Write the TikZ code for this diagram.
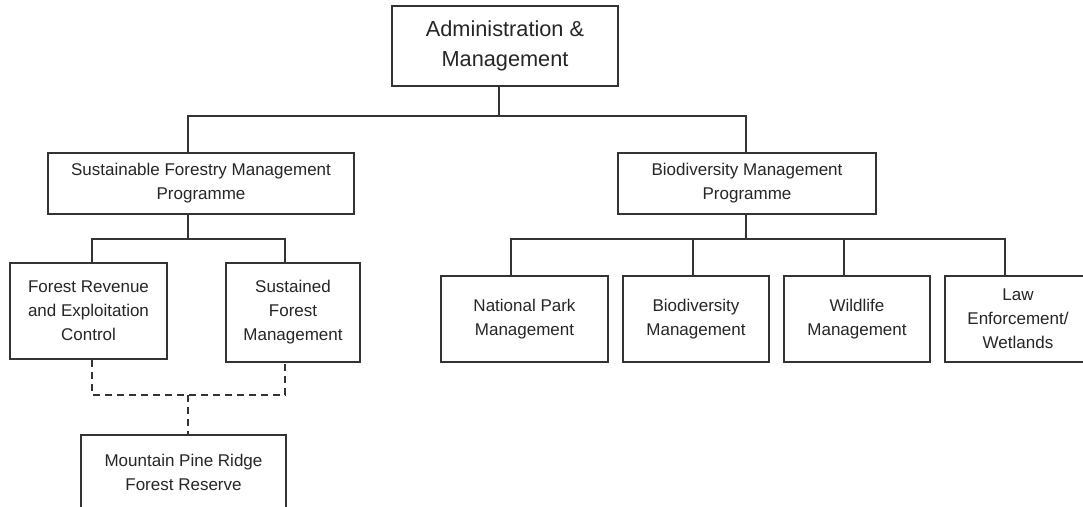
\documentclass[tikz,border=0pt]{standalone}
\usepackage{fontspec}
\setmainfont{Liberation Sans}
\begin{document}
\begin{tikzpicture}[x=0.75pt,y=-0.75pt,
  box/.style={draw=black!80, line width=1.5pt, rectangle, inner sep=0pt, align=center,
    text=black!85, font=\fontsize{12.75}{18}\selectfont},
  bigbox/.style={box, font=\fontsize{16.3}{22.5}\selectfont},
  conn/.style={draw=black!80, line width=1.5pt},
  dconn/.style={conn, dash pattern=on 5.25pt off 3.75pt}]
\useasboundingbox (0,0) rectangle (1083,507);
\fill[white] (0,0) rectangle (1083,507);
\clip (0,0) rectangle (1083,507);

\node[bigbox, minimum width=226*0.75pt, minimum height=80*0.75pt] (top) at (505,46) {Administration \&\\Management};
\node[box, minimum width=306*0.75pt, minimum height=61*0.75pt] (sfmp) at (201,183.5) {Sustainable Forestry Management\\Programme};
\node[box, minimum width=258*0.75pt, minimum height=61*0.75pt] (bmp) at (747,183.5) {Biodiversity Management\\Programme};
\node[box, minimum width=157*0.75pt, minimum height=96*0.75pt] (fr) at (88.5,311) {Forest Revenue\\and Exploitation\\Control};
\node[box, minimum width=134*0.75pt, minimum height=99*0.75pt] (sfm) at (293,312.5) {Sustained\\Forest\\Management};
\node[box, minimum width=205*0.75pt, minimum height=75*0.75pt] (mpr) at (183.5,472.5) {Mountain Pine Ridge\\Forest Reserve};
\node[box, minimum width=167*0.75pt, minimum height=86*0.75pt] (np) at (524.5,319) {National Park\\Management};
\node[box, minimum width=146*0.75pt, minimum height=86*0.75pt] (bio) at (696,319) {Biodiversity\\Management};
\node[box, minimum width=146*0.75pt, minimum height=86*0.75pt] (wild) at (857,319) {Wildlife\\Management};
\node[box, minimum width=146*0.75pt, minimum height=86*0.75pt] (law) at (1018,319) {Law\\Enforcement/\\Wetlands};

\coordinate (bT) at (499,116);
\coordinate (bL) at (188,116);
\coordinate (bR) at (746,116);
\draw[conn] (top.south -| bT) -- (bT);
\draw[conn] (sfmp.north -| bL) -- (bL) -- (bR) -- (bmp.north -| bR);

\coordinate (c1) at (188,239);
\coordinate (c2) at (92,239);
\coordinate (c3) at (285,239);
\draw[conn] (sfmp.south -| c1) -- (c1);
\draw[conn] (fr.north -| c2) -- (c2) -- (c3) -- (sfm.north -| c3);

\coordinate (d1) at (92,395);
\coordinate (d2) at (285,395);
\coordinate (d3) at (188,395);
\draw[dconn] (fr.south -| d1) -- (d1) -- (d2) -- (sfm.south -| d2);
\draw[dconn] (d3) -- (mpr.north -| d3);

\coordinate (e0) at (746,239);
\coordinate (e1) at (511,239);
\coordinate (e2) at (693,239);
\coordinate (e3) at (844,239);
\coordinate (e4) at (1005,239);
\draw[conn] (bmp.south -| e0) -- (e0);
\draw[conn] (np.north -| e1) -- (e1) -- (e4) -- (law.north -| e4);
\draw[conn] (bio.north -| e2) -- (e2);
\draw[conn] (wild.north -| e3) -- (e3);
\end{tikzpicture}
\end{document}
